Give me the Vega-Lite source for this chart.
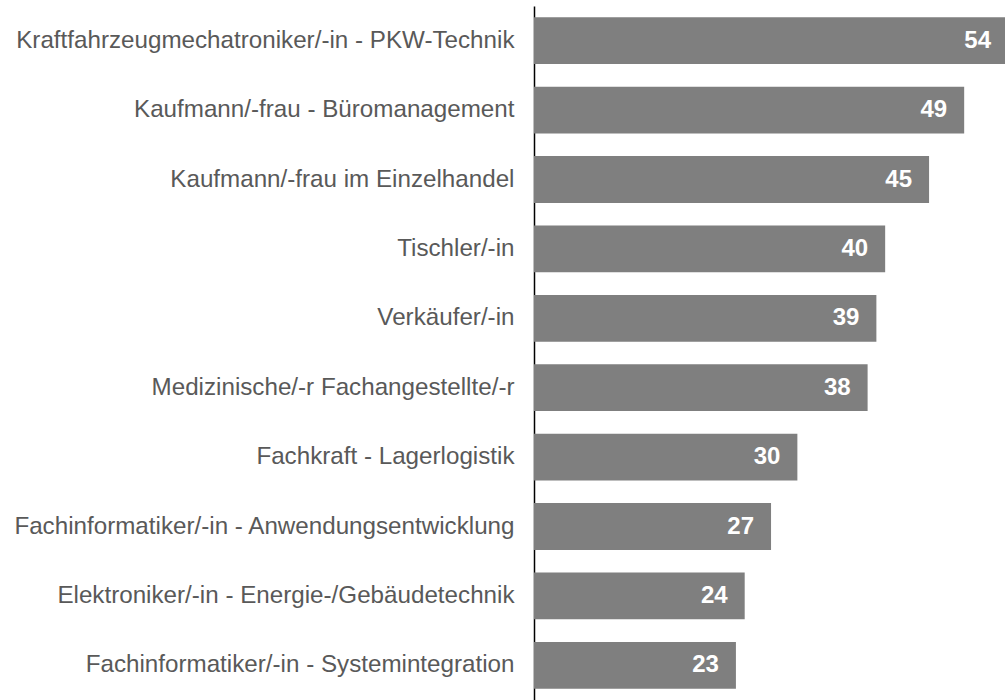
{
  "$schema": "https://vega.github.io/schema/vega-lite/v6.json",
  "autosize": "none",
  "width": 471,
  "height": 694,
  "padding": {"left": 534, "top": 6, "right": 0, "bottom": 0},
  "background": "white",
  "config": {"view": {"stroke": null}, "font": "Liberation Sans"},
  "data": {"values": [
    {"beruf": "Kraftfahrzeugmechatroniker/-in - PKW-Technik", "wert": 54},
    {"beruf": "Kaufmann/-frau - Büromanagement", "wert": 49},
    {"beruf": "Kaufmann/-frau im Einzelhandel", "wert": 45},
    {"beruf": "Tischler/-in", "wert": 40},
    {"beruf": "Verkäufer/-in", "wert": 39},
    {"beruf": "Medizinische/-r Fachangestellte/-r", "wert": 38},
    {"beruf": "Fachkraft - Lagerlogistik", "wert": 30},
    {"beruf": "Fachinformatiker/-in - Anwendungsentwicklung", "wert": 27},
    {"beruf": "Elektroniker/-in - Energie-/Gebäudetechnik", "wert": 24},
    {"beruf": "Fachinformatiker/-in - Systemintegration", "wert": 23}
  ]},
  "encoding": {
    "y": {
      "field": "beruf", "type": "nominal", "sort": null,
      "scale": {"paddingInner": 0.325, "paddingOuter": 0.1625},
      "axis": {"title": null, "ticks": false, "domainColor": "#000000", "domainWidth": 1.5,
               "labelFontSize": 24.2, "labelColor": "#595959", "labelPadding": 20, "labelLimit": 0}
    },
    "x": {
      "field": "wert", "type": "quantitative",
      "scale": {"domain": [0, 53.65], "nice": false, "zero": true},
      "axis": null
    }
  },
  "layer": [
    {"mark": {"type": "bar", "color": "#7f7f7f", "clip": true}},
    {"mark": {"type": "text", "align": "right", "baseline": "middle", "dx": -17, "color": "white", "fontWeight": "bold", "fontSize": 24},
     "encoding": {"text": {"field": "wert", "type": "quantitative"}}}
  ]
}
